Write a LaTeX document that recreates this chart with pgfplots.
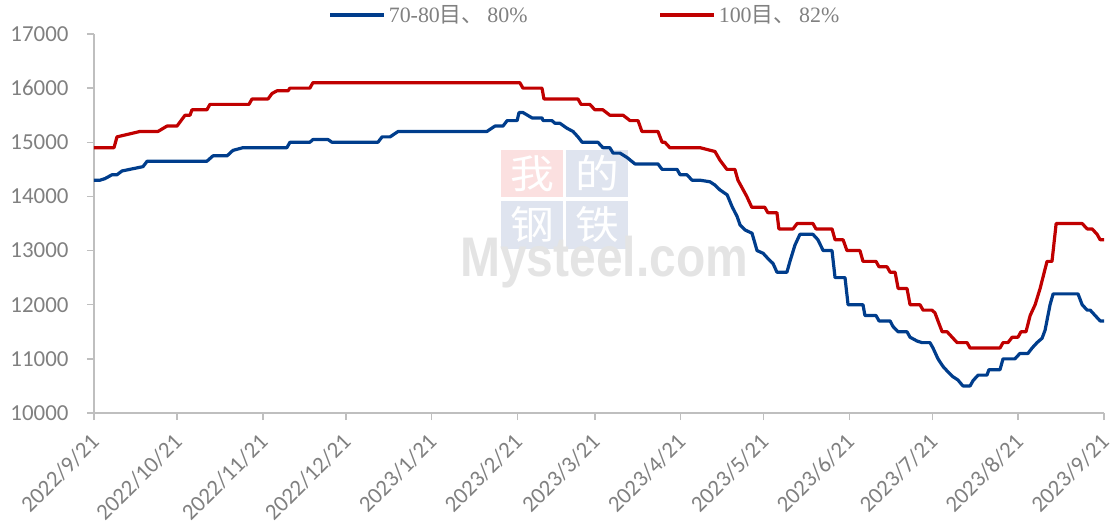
\documentclass[border=0pt]{standalone}
\usepackage{pgfplots}
\pgfplotsset{compat=1.18}
\usepackage{fontspec}
\setmainfont{Carlito}
\newfontfamily\cjk{Noto Sans CJK SC}
\newfontfamily\lserif{Liberation Serif}
\newfontfamily\wmfont{Liberation Sans}
\definecolor{blueline}{RGB}{0,61,140}
\definecolor{redline}{RGB}{192,0,0}
\definecolor{axgray}{RGB}{191,191,191}
\definecolor{txtgray}{RGB}{128,128,128}
\definecolor{wmpink}{RGB}{251,224,224}
\definecolor{wmblue}{RGB}{223,228,239}
\definecolor{wmgray}{RGB}{228,228,228}
\begin{document}
\begin{tikzpicture}
\path[use as bounding box] (-94bp,-116bp) rectangle (1021bp,413bp);
% watermark
\fill[wmpink] (407bp,216bp) rectangle (469bp,263bp);
\fill[wmblue] (472bp,216bp) rectangle (534bp,263bp);
\fill[wmblue] (407bp,164bp) rectangle (469bp,212bp);
\fill[wmblue] (472bp,164bp) rectangle (534bp,212bp);
\node[white,font=\cjk\fontsize{44}{44}\selectfont,inner sep=0pt,yscale=0.9] at (438bp,239.5bp) {我};
\node[white,font=\cjk\fontsize{44}{44}\selectfont,inner sep=0pt,yscale=0.9] at (503bp,239.5bp) {的};
\node[white,font=\cjk\fontsize{44}{44}\selectfont,inner sep=0pt,yscale=0.9] at (438bp,188bp) {钢};
\node[white,font=\cjk\fontsize{44}{44}\selectfont,inner sep=0pt,yscale=0.9] at (503bp,188bp) {铁};
\node[wmgray,font=\wmfont\bfseries\fontsize{56}{56}\selectfont,inner sep=0pt,anchor=base west,xscale=0.86] at (366bp,136bp) {Mysteel.com};
\begin{axis}[
  at={(0,0)}, anchor=south west,
  scale only axis, width=1010bp, height=379bp,
  xmin=0, xmax=365, ymin=10000, ymax=17000,
  axis x line*=bottom, axis y line*=left,
  axis line style={axgray, line width=1.5bp},
  major tick style={axgray, line width=1.5bp},
  major tick length=7bp, tick align=outside,
  xtick={0,30,61,91,122,153,181,212,242,273,303,334,365},
  xticklabels={2022/9/21,2022/10/21,2022/11/21,2022/12/21,2023/1/21,2023/2/21,2023/3/21,2023/4/21,2023/5/21,2023/6/21,2023/7/21,2023/8/21,2023/9/21},
  ytick={10000,11000,12000,13000,14000,15000,16000,17000},
  scaled y ticks=false,
  /pgf/number format/assume math mode=true,
  tick label style={font=\fontsize{23}{25}\selectfont, text=txtgray},
  yticklabel style={xshift=-15bp, /pgf/number format/.cd, fixed, set thousands separator={}},
  xticklabel style={xshift=-5bp, yshift=-12bp, rotate=45, anchor=north east, inner sep=0pt},
  legend style={at={(0.4866,1.050)}, anchor=center, draw=none, fill=none,
    font=\lserif\fontsize{22}{24}\selectfont, text=txtgray,
    legend columns=2, inner sep=0pt,
    /tikz/every even column/.append style={column sep=128bp},
    nodes={inner xsep=3bp}},
  legend cell align=left,
  legend image code/.code={\draw[#1, line width=3.2bp] (0bp,0bp) -- (54bp,0bp);},
  every axis plot/.append style={line width=3.2bp, line join=round, mark=none},
]
\addplot[blueline] coordinates {
(0,14300)(2.2,14300)(4.0,14330)(6.5,14400)(8.3,14400)(10.1,14470)(17.7,14550)(19.2,14650)
(40.8,14650)(43.0,14750)(48.1,14750)(50.2,14850)(53.8,14900)(69.7,14900)(70.8,15000)
(78.0,15000)(79.1,15050)(84.6,15050)(86.0,15000)(102.6,15000)(104.1,15100)(107.0,15100)
(109.9,15200)(142.0,15200)(144.9,15300)(147.8,15300)(149.3,15400)(152.9,15400)(153.6,15550)
(155.0,15550)(158.3,15450)(161.9,15450)(162.3,15400)(165.5,15400)(166.6,15350)(168.4,15350)
(170.9,15260)(173.1,15200)(174.9,15100)(176.4,15000)(182.1,15000)(183.9,14900)(186.4,14900)
(187.6,14800)(190.1,14800)(192.6,14720)(195.5,14600)(203.8,14600)(205.3,14500)(210.7,14500)
(211.8,14400)(214.3,14400)(216.1,14300)(219.0,14300)(222.6,14270)(224.4,14210)(226.2,14120)
(228.8,14030)(230.6,13810)(232.4,13630)(233.5,13470)(235.3,13380)(237.8,13320)(239.6,13000)
(241.8,12950)(243.6,12850)(245.4,12760)(246.8,12600)(250.4,12600)(251.5,12800)(253.3,13100)
(255.1,13300)(259.8,13300)(261.6,13200)(263.5,13000)(266.7,13000)(267.8,12500)(271.4,12500)
(272.5,12000)(277.9,12000)(278.6,11800)(282.6,11800)(283.7,11700)(287.7,11700)(288.7,11600)
(290.6,11500)(293.8,11500)(294.9,11400)(297.4,11330)(299.2,11300)(302.1,11300)(303.2,11200)
(305.0,11000)(306.8,10860)(308.6,10760)(310.4,10670)(312.2,10610)(314.0,10500)(316.6,10500)
(317.7,10600)(319.5,10700)(322.7,10700)(323.4,10800)(327.4,10800)(328.5,11000)(332.8,11000)
(334.6,11100)(337.5,11100)(339.0,11200)(340.8,11300)(342.6,11380)(343.7,11530)(345.5,12000)
(346.6,12200)(355.6,12200)(357.1,12000)(358.9,11900)(360.0,11900)(361.8,11800)(363.6,11700)
(365.0,11700)
};
\addlegendentry{70-80{\cjk 目、}\,80\%}
\addplot[redline] coordinates {
(0,14900)(7.23,14900)(8.31,15100)(16.62,15200)(23.13,15200)(26.38,15300)(30.0,15300)
(32.9,15500)(34.7,15500)(35.4,15600)(40.8,15600)(41.9,15700)(56.0,15700)(57.1,15800)
(62.9,15800)(64.3,15900)(66.1,15950)(70.1,15950)(70.8,16000)(78.0,16000)(79.1,16100)
(153.9,16100)(155.0,16000)(161.9,16000)(162.6,15800)(174.9,15800)(176.0,15700)(179.2,15700)
(181.0,15600)(183.9,15600)(186.4,15500)(191.2,15500)(193.7,15400)(196.6,15400)(198.0,15200)
(203.8,15200)(205.3,15000)(206.3,15000)(208.1,14900)(219.0,14900)(224.4,14830)(226.2,14670)
(228.7,14500)(231.6,14500)(232.7,14300)(235.9,14000)(237.7,13800)(242.4,13800)(243.5,13700)
(246.8,13700)(247.5,13400)(252.6,13400)(254.1,13500)(259.8,13500)(260.9,13400)(266.7,13400)
(267.8,13200)(270.7,13200)(272.1,13000)(276.8,13000)(277.9,12800)(282.6,12800)(283.7,12700)
(286.6,12700)(287.7,12600)(289.5,12600)(290.6,12300)(293.8,12300)(294.9,12000)(298.5,12000)
(299.6,11900)(302.8,11900)(303.9,11850)(305.0,11700)(306.5,11500)(308.3,11500)(310.1,11400)
(311.9,11300)(315.5,11300)(316.6,11200)(327.4,11200)(328.5,11300)(330.3,11300)(331.8,11400)
(333.9,11400)(335.0,11500)(336.8,11500)(338.3,11800)(340.1,12000)(341.9,12300)(344.4,12800)
(346.2,12800)(347.7,13500)(357.1,13500)(358.9,13400)(360.7,13400)(362.5,13300)(363.6,13200)
(365.0,13200)
};
\addlegendentry{100{\cjk 目、}\,82\%}
\end{axis}
\end{tikzpicture}
\end{document}
